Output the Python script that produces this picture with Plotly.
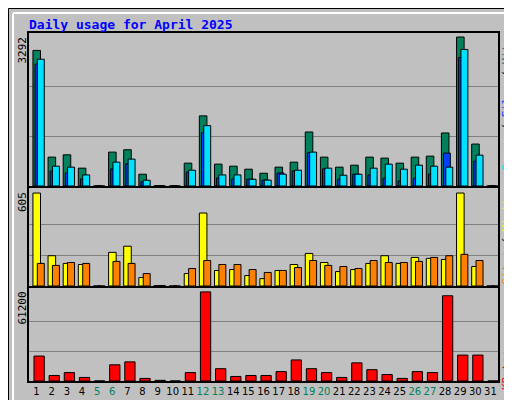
import plotly.graph_objects as go
from plotly.subplots import make_subplots

days = list(range(1, 32))
weekend_days = [5, 6, 12, 13, 19, 20, 26, 27]

hits = [2996, 638, 689, 394, 0, 749, 801, 260, 5, 0, 505, 1550, 483, 438, 371, 282,
        416, 527, 1194, 638, 416, 460, 638, 616, 505, 638, 660, 1172, 3292, 927, 0]
files = [2691, 327, 289, 156, 0, 378, 489, 96, 5, 0, 305, 1179, 178, 156, 149, 130,
         289, 334, 734, 378, 149, 260, 245, 171, 111, 171, 260, 727, 2840, 549, 0]
pages = [2802, 438, 416, 245, 0, 527, 594, 127, 5, 0, 349, 1334, 245, 245, 149, 130,
         260, 349, 749, 394, 238, 260, 394, 483, 371, 460, 438, 416, 3018, 682, 0]
visits = [605, 197, 147, 140, 0, 219, 259, 55, 3, 0, 81, 475, 101, 107, 68, 48,
          101, 140, 212, 153, 94, 107, 147, 197, 147, 186, 180, 173, 605, 127, 0]
sites = [147, 134, 153, 147, 0, 160, 147, 81, 3, 0, 114, 166, 140, 140, 107, 88,
         101, 120, 166, 134, 127, 114, 166, 153, 153, 160, 186, 197, 206, 166, 0]
kbytes = [17135, 3783, 5786, 2448, 0, 11127, 13130, 1780, 445, 0, 5786, 61200, 8457, 3116, 3783, 3783,
          6454, 14465, 8457, 5786, 2448, 12462, 7789, 4451, 1780, 6454, 5786, 58529, 17804, 17804, 0]

max_hits = 3292
max_visits = 605
max_kbytes = 61200

W, H = 512, 400
L, R, T, B = 21, 22, 25, 27
ph = H - T - B

def fy(py):
    return (H - B - py) / ph

def fx(px):
    return (px - L) / (W - L - R)

fig = make_subplots(rows=3, cols=1, shared_xaxes=True, vertical_spacing=0)

line = dict(color='black', width=1)
fig.add_trace(go.Bar(x=days, y=hits, marker=dict(color='#00805C', line=line), offset=-0.24, width=0.5), row=1, col=1)
fig.add_trace(go.Bar(x=days, y=files, marker=dict(color='#0040FF', line=line), offset=-0.1, width=0.45), row=1, col=1)
fig.add_trace(go.Bar(x=days, y=pages, marker=dict(color='#00E0FF', line=line), offset=0.05, width=0.46), row=1, col=1)
fig.add_trace(go.Bar(x=days, y=visits, marker=dict(color='#FFFF00', line=line), offset=-0.24, width=0.5), row=2, col=1)
fig.add_trace(go.Bar(x=days, y=sites, marker=dict(color='#FF8000', line=line), offset=0.05, width=0.46), row=2, col=1)
fig.add_trace(go.Bar(x=days, y=kbytes, marker=dict(color='#FF0000', line=line), offset=-0.17, width=0.68), row=3, col=1)

fig.update_layout(
    width=W, height=H, barmode='overlay', showlegend=False,
    margin=dict(l=L, r=R, t=T, b=B),
    paper_bgcolor='#C0C0C0', plot_bgcolor='#C0C0C0',
    font=dict(family='DejaVu Sans Mono', size=11, color='black'),
    yaxis=dict(domain=[fy(178), 1], range=[0, max_hits * 152 / 148]),
    yaxis2=dict(domain=[fy(278), fy(180)], range=[0, max_visits * 97 / 92]),
    yaxis3=dict(domain=[0, fy(280)], range=[0, max_kbytes * 95.7 / 91.7]),
)
for i, m in enumerate([max_hits, max_visits, max_kbytes], start=1):
    fig.update_yaxes(tickvals=[m / 3, 2 * m / 3], showticklabels=False, showgrid=True,
                     gridcolor='#808080', gridwidth=1, zeroline=False,
                     showline=True, mirror=True, linecolor='black', linewidth=2, row=i, col=1)

ticktext = [f"<span style='color:#00805C'>{d}</span>" if d in weekend_days else str(d) for d in days]
fig.update_xaxes(range=[0.5, 31.5], showgrid=False, zeroline=False, showline=True, mirror=True,
                 linecolor='black', linewidth=2, ticks='')
fig.update_xaxes(tickvals=days, ticktext=ticktext, tickangle=0,
                 tickfont=dict(size=10, family='DejaVu Sans'), row=3, col=1)

# left max labels
for txt, py in [(str(max_hits), 27), (str(max_visits), 182), (str(max_kbytes), 282)]:
    fig.add_annotation(text=txt, xref='paper', yref='paper', x=fx(14), y=fy(py), textangle=-90,
                       showarrow=False, xanchor='center', yanchor='top', font=dict(size=11, color='black'))

# right legend labels
right_labels = [
    ("<span style='color:#00E0FF'>Pages</span> / <span style='color:#0040FF'>Files</span> / <span style='color:#00805C'>Hits</span>", 28),
    ("<span style='color:#FF8000'>Sites</span> / <span style='color:#FFFF00'>Visits</span>", 182),
    ("<span style='color:#FF0000'>KBytes</span>", 340),
]
for txt, py in right_labels:
    fig.add_annotation(text=txt, xref='paper', yref='paper', x=fx(498), y=fy(py), textangle=-90,
                       showarrow=False, xanchor='center', yanchor='top', font=dict(size=11, color='black'))

fig.add_annotation(text="<b>Daily usage for April 2025</b>", xref='paper', yref='paper',
                   x=fx(19), y=fy(7), xanchor='left', yanchor='top', showarrow=False,
                   font=dict(size=13, color='#0000FF', family='DejaVu Sans Mono'))

# frame with bevel
bevel = [
    (506, 5, 506, 395, '#808080'),
    (5, 395, 506, 395, '#808080'),
    (5, 5, 506, 5, 'white'),
    (5, 5, 5, 395, 'white'),
]
fig.add_shape(type='rect', xref='paper', yref='paper', x0=fx(0.5), y0=fy(399.5), x1=fx(511.5), y1=fy(0.5),
              line=dict(color='black', width=1), layer='below')
for x0, y0, x1, y1, c in bevel:
    fig.add_shape(type='line', xref='paper', yref='paper', x0=fx(x0), y0=fy(y0), x1=fx(x1), y1=fy(y1),
                  line=dict(color=c, width=2), layer='below')

fig.write_html("out.html")
